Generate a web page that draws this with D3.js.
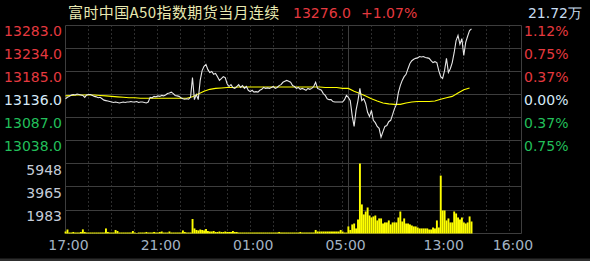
<!DOCTYPE html>
<html><head><meta charset="utf-8">
<script src="https://cdn.jsdelivr.net/npm/d3@7"></script>
<style>html,body{margin:0;padding:0;background:#000;overflow:hidden}</style>
</head><body>
<svg id="c" width="590" height="261"></svg>
<script>
// ---------- data ----------
const titleText = "富时中国A50指数期货当月连续";
const lastPrice = 13276.0;
const lastChangePct = 1.07;
const totalVolumeWan = 21.72;
const prevClose = 13136;

const priceTicks = [13283, 13234, 13185, 13136, 13087, 13038];
const pctLabels = ["1.12%", "0.75%", "0.37%", "0.00%", "0.37%", "0.75%"];
const volumeTicks = [5948, 3965, 1983];
const timeLabels = ["17:00", "21:00", "01:00", "05:00", "13:00", "16:00"];
const timeLabelMinutes = [0, 240, 480, 720, 975, 1155]; // trading minutes since 17:00

// 5-minute bars, night session 17:00-05:15
const nightPrice = [13127,13130,13132,13135,13136,13135,13137,13136,13135,13134,
13130,13135,13136,13136,13134,13132,13131,13129,13130,13127,
13124,13123,13122,13121,13120,13119,13120,13119,13118,13119,
13120,13119,13120,13120,13121,13120,13120,13121,13119,13120,
13120,13119,13118,13120,13130,13129,13132,13131,13133,13132,
13134,13133,13135,13138,13139,13141,13138,13134,13133,13132,
13129,13127,13126,13127,13126,13130,13172,13125,13136,13125,
13166,13187,13196,13200,13189,13183,13185,13179,13181,13174,
13166,13170,13174,13172,13159,13153,13157,13151,13149,13153,
13157,13151,13155,13149,13153,13145,13142,13145,13141,13142,
13141,13145,13147,13151,13149,13150,13149,13151,13153,13149,
13151,13155,13157,13162,13164,13166,13164,13162,13155,13153,
13149,13151,13147,13149,13147,13145,13149,13147,13149,13153,
13162,13149,13147,13145,13138,13134,13127,13125,13125,13121,
13120,13120,13120,13120,13120,13125,13134];
// 5-minute bars, day session from 09:00
const dayPrice = [13130,13123,13091,13068,13102,13123,13149,13123,13127,13117,
13098,13089,13102,13081,13076,13068,13064,13045,13057,13068,
13070,13078,13081,13093,13106,13115,13140,13155,13166,13174,
13179,13191,13202,13208,13211,13213,13214,13217,13216,13217,
13215,13214,13213,13208,13204,13206,13204,13187,13174,13170,
13187,13213,13183,13191,13204,13225,13251,13262,13243,13255,
13219,13247,13260,13272,13276];
// average price, 15-minute points
const nightAvg = [13133,13134,13135,13135,13135,13135,13134,13133,13132,13131,
13130,13129,13129,13128,13128,13128,13128,13128,13128,13128,
13128,13128,13131,13137,13143,13147,13149,13150,13151,13151,
13152,13152,13152,13152,13152,13152,13152,13152,13152,13152,
13152,13152,13152,13152,13152,13151,13151,13151,13149];
const dayAvg = [13149,13143,13138,13133,13127,13122,13118,13116,13115,13115,
13118,13120,13121,13121,13121,13122,13126,13129,13132,13139,
13146,13150];
// volume, 5-minute bars
const nightVolume = [170,340,85,85,130,85,85,85,130,350,
130,85,85,85,85,85,85,85,85,85,
85,430,130,85,85,85,300,210,85,85,
85,85,85,85,85,210,85,40,85,85,
85,85,130,85,85,85,130,85,85,130,
170,85,85,85,170,85,85,85,85,85,
85,260,130,85,85,85,1230,430,300,260,
340,300,260,380,210,170,170,210,130,130,
170,130,130,170,130,130,130,210,130,130,
85,85,85,85,85,85,85,85,85,85,
85,85,85,85,85,85,85,85,85,85,
85,130,85,85,85,85,85,85,85,85,
85,85,130,85,85,85,85,85,85,85,
300,170,170,170,170,170,170,170,170,170,
170,170,170,300,170,85,85];
const dayVolume = [600,300,770,850,430,1190,5948,2470,1620,1870,
2210,1530,1360,1450,1530,1110,1280,1280,850,940,
940,1110,770,940,940,940,1360,1870,1020,1280,
850,850,770,680,600,600,510,430,430,430,
430,430,340,340,510,430,1110,510,4920,1960,
1960,1110,1280,940,940,1870,1700,1360,1190,1360,
940,850,940,1450,1020];

// ---------- layout ----------
const NIGHT_LEN = 735, TOTAL_LEN = 1185, BAR = 5, AVG_STEP = 15;
const RED = "#e5393f", GREEN = "#22bf5a", NEUTRAL = "#d6eaf8";
const GRID = "#3d3d3d", DOT = "#5a5a5a";
const numFont = "'DejaVu Sans', sans-serif";

const svg = d3.select("#c");
svg.append("rect").attr("width", 590).attr("height", 261).attr("fill", "#000");

const x = d3.scaleLinear().domain([0, TOTAL_LEN]).range([65.5, 521.5]);
const yP = d3.scaleLinear().domain([12989, 13283]).range([163.5, 25.5]);
const yV = d3.scaleLinear().domain([0, 5948]).range([233.5, 163.5]);

const priceData = nightPrice.map((p, i) => ({t: i * BAR, v: p}))
  .concat(dayPrice.map((p, j) => ({t: NIGHT_LEN + j * BAR, v: p})));
const avgData = nightAvg.map((p, i) => ({t: i * AVG_STEP, v: p}))
  .concat(dayAvg.map((p, j) => ({t: NIGHT_LEN + j * AVG_STEP, v: p})));
const volData = nightVolume.map((p, i) => ({t: i * BAR, v: p}))
  .concat(dayVolume.map((p, j) => ({t: NIGHT_LEN + j * BAR, v: p})));

const crisp = v => Math.floor(v) + 0.5;

// dotted hourly verticals
const hourMarks = [];
for (let m = 60; m < NIGHT_LEN; m += 60) hourMarks.push(m);
for (let m = NIGHT_LEN + 60; m < TOTAL_LEN; m += 60) hourMarks.push(m);
svg.append("g").selectAll("line").data(hourMarks).join("line")
  .attr("x1", d => crisp(x(d))).attr("x2", d => crisp(x(d)))
  .attr("y1", yP(13283)).attr("y2", yV(0))
  .attr("stroke", DOT).attr("stroke-width", 1).attr("stroke-dasharray", "1,3");

// horizontal grid
svg.append("g").selectAll("line").data(priceTicks).join("line")
  .attr("x1", x(0)).attr("x2", x(TOTAL_LEN))
  .attr("y1", d => crisp(yP(d))).attr("y2", d => crisp(yP(d)))
  .attr("stroke", GRID);
svg.append("g").selectAll("line").data(volumeTicks.concat([0])).join("line")
  .attr("x1", x(0)).attr("x2", x(TOTAL_LEN))
  .attr("y1", d => crisp(yV(d))).attr("y2", d => crisp(yV(d)))
  .attr("stroke", GRID);
// solid verticals: left edge, session break, right edge
svg.append("g").selectAll("line").data([0, NIGHT_LEN, TOTAL_LEN]).join("line")
  .attr("x1", d => crisp(x(d))).attr("x2", d => crisp(x(d)))
  .attr("y1", yP(13283)).attr("y2", yV(0))
  .attr("stroke", GRID);

// volume bars
svg.append("g").selectAll("rect").data(volData).join("rect")
  .attr("x", d => x(d.t) - 0.9).attr("width", 1.9)
  .attr("y", d => yV(d.v)).attr("height", d => yV(0) - yV(d.v))
  .attr("fill", "#ffff00");

// price & average lines
const line = d3.line().x(d => x(d.t)).y(d => yP(d.v));
svg.append("path").datum(avgData).attr("d", line)
  .attr("fill", "none").attr("stroke", "#ffff00").attr("stroke-width", 1.1);
svg.append("path").datum(priceData).attr("d", line)
  .attr("fill", "none").attr("stroke", "#e6e6e6").attr("stroke-width", 1.1);

// axis labels
const colorFor = v => v > prevClose ? RED : (v < prevClose ? GREEN : NEUTRAL);
svg.append("g").selectAll("text").data(priceTicks).join("text")
  .attr("x", 62).attr("y", d => yP(d) + 10.5).attr("text-anchor", "end")
  .attr("font-family", numFont).attr("font-size", 14)
  .attr("fill", colorFor).text(d => d.toFixed(1));
svg.append("g").selectAll("text").data(priceTicks).join("text")
  .attr("x", 524).attr("y", d => yP(d) + 10.5)
  .attr("font-family", numFont).attr("font-size", 14)
  .attr("fill", colorFor).text((d, i) => pctLabels[i]);
svg.append("g").selectAll("text").data(volumeTicks).join("text")
  .attr("x", 62).attr("y", d => yV(d) + 11).attr("text-anchor", "end")
  .attr("font-family", numFont).attr("font-size", 14)
  .attr("fill", "#c4ccd8").text(d => d);
svg.append("g").selectAll("text").data(timeLabels).join("text")
  .attr("x", (d, i) => x(timeLabelMinutes[i]) + 3).attr("y", 250)
  .attr("text-anchor", "middle")
  .attr("font-family", numFont).attr("font-size", 14)
  .attr("fill", "#a3b3c4").text(d => d);

// header
svg.append("text").attr("x", 68).attr("y", 18)
  .attr("font-family", "'Noto Sans CJK SC', sans-serif").attr("font-size", 15)
  .attr("letter-spacing", 0.4).attr("fill", "#e8e8b0").text(titleText);
svg.append("text").attr("x", 293).attr("y", 18)
  .attr("font-family", numFont).attr("font-size", 14).attr("fill", RED)
  .text(lastPrice.toFixed(1));
svg.append("text").attr("x", 361).attr("y", 18)
  .attr("font-family", numFont).attr("font-size", 14).attr("fill", RED)
  .text("+" + lastChangePct.toFixed(2) + "%");
svg.append("text").attr("x", 582).attr("y", 18).attr("text-anchor", "end")
  .attr("font-family", numFont).attr("font-size", 14).attr("fill", "#c8dcf0")
  .text(totalVolumeWan.toFixed(2) + "万");

// bottom window edge
svg.append("rect").attr("x", 0).attr("y", 258.5).attr("width", 590).attr("height", 2.5)
  .attr("fill", "#2e2e2e");
</script>
</body></html>
